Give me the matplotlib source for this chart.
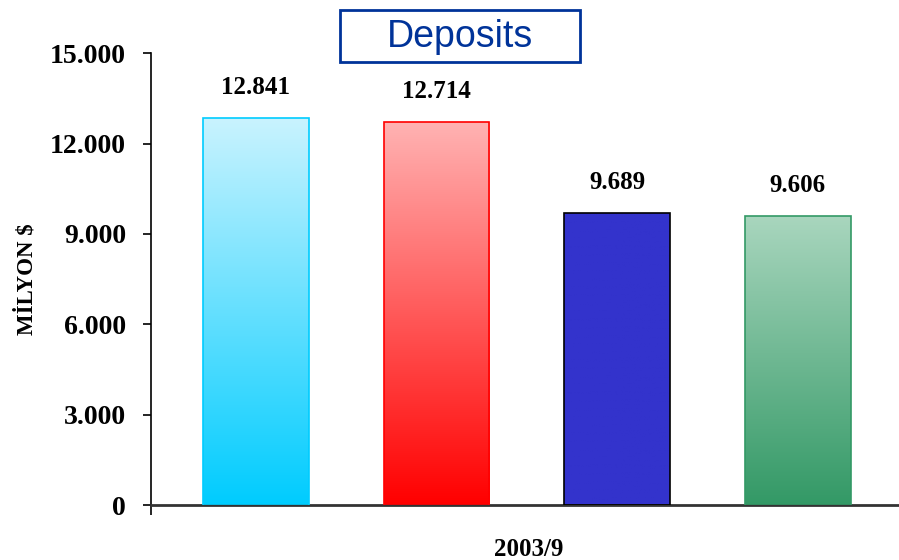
import numpy as np
import matplotlib
matplotlib.use("Agg")
import matplotlib.pyplot as plt
from matplotlib.colors import LinearSegmentedColormap
from matplotlib.patches import Rectangle

# data
categories = ["A", "B", "C", "D"]
values = [12841, 12714, 9689, 9606]
period_label = "2003/9"
y_ticks = [0, 3000, 6000, 9000, 12000, 15000]

# top colour -> bottom colour for each bar
bar_tops = ["#C9F3FE", "#FFB3B3", "#3333CC", "#A9D6BE"]
bar_bottoms = ["#00CCFF", "#FF0000", "#3333CC", "#339966"]
bar_edges = ["#00CCFF", "#FF0000", "#000000", "#339966"]


def tr_fmt(v):
    return f"{int(v):,}".replace(",", ".")


plt.rcParams['font.family'] = ['Liberation Serif', 'DejaVu Serif']
plt.rcParams['font.weight'] = 'bold'

fig = plt.figure(figsize=(8.99, 5.6), dpi=100)
ax = fig.add_axes([0.168, 0.098, 0.84, 0.807])

x = np.arange(len(values))
bars = ax.bar(x, values, width=0.586, color='none', edgecolor=bar_edges, linewidth=1.2, zorder=3)

# vertical gradient fill, clipped to each bar
for rect, top, bot in zip(bars, bar_tops, bar_bottoms):
    cmap = LinearSegmentedColormap.from_list("g", [bot, top])
    grad = np.linspace(0, 1, 256).reshape(-1, 1)
    x0 = rect.get_x()
    w = rect.get_width()
    h = rect.get_height()
    im = ax.imshow(grad, cmap=cmap, origin='lower', aspect='auto',
                   extent=[x0, x0 + w, 0, h], zorder=2)
    im.set_clip_path(rect)

for xi, v in zip(x, values):
    ax.annotate(tr_fmt(v), xy=(xi, v), xytext=(0, 22), textcoords='offset points',
                ha='center', va='center', fontsize=18, fontweight='bold')

ax.set_xlim(-0.58, 3.6)
ax.set_ylim(0, 15000)
ax.set_yticks(y_ticks)
ax.set_yticklabels([tr_fmt(t) for t in y_ticks], fontsize=20, fontweight='bold')
ax.set_xticks([-0.58])
ax.set_xticklabels([""])
ax.tick_params(axis='y', direction='out', length=6, width=1.2, pad=12)
ax.tick_params(axis='x', direction='out', length=7, width=1.2)

ax.spines['top'].set_visible(False)
ax.spines['right'].set_visible(False)
ax.spines['left'].set_linewidth(1.2)
ax.spines['bottom'].set_linewidth(2)
ax.spines['bottom'].set_color('#333333')

ax.set_ylabel("MİLYON $", fontsize=16.5, fontweight='bold')
ax.yaxis.set_label_coords(-0.15, 0.5)
ax.set_xlabel(period_label, fontsize=18, fontweight='bold')
ax.xaxis.set_label_coords(0.5, -0.072)

# boxed title
fig.patches.append(Rectangle((0.378, 0.889), 0.267, 0.093, transform=fig.transFigure,
                             facecolor='white', edgecolor='#003399', linewidth=2))
fig.text(0.512, 0.934, "Deposits", ha='center', va='center', fontsize=27,
         fontweight='normal', color='#003399', family='Liberation Sans')

fig.savefig("out.png", dpi=100)
